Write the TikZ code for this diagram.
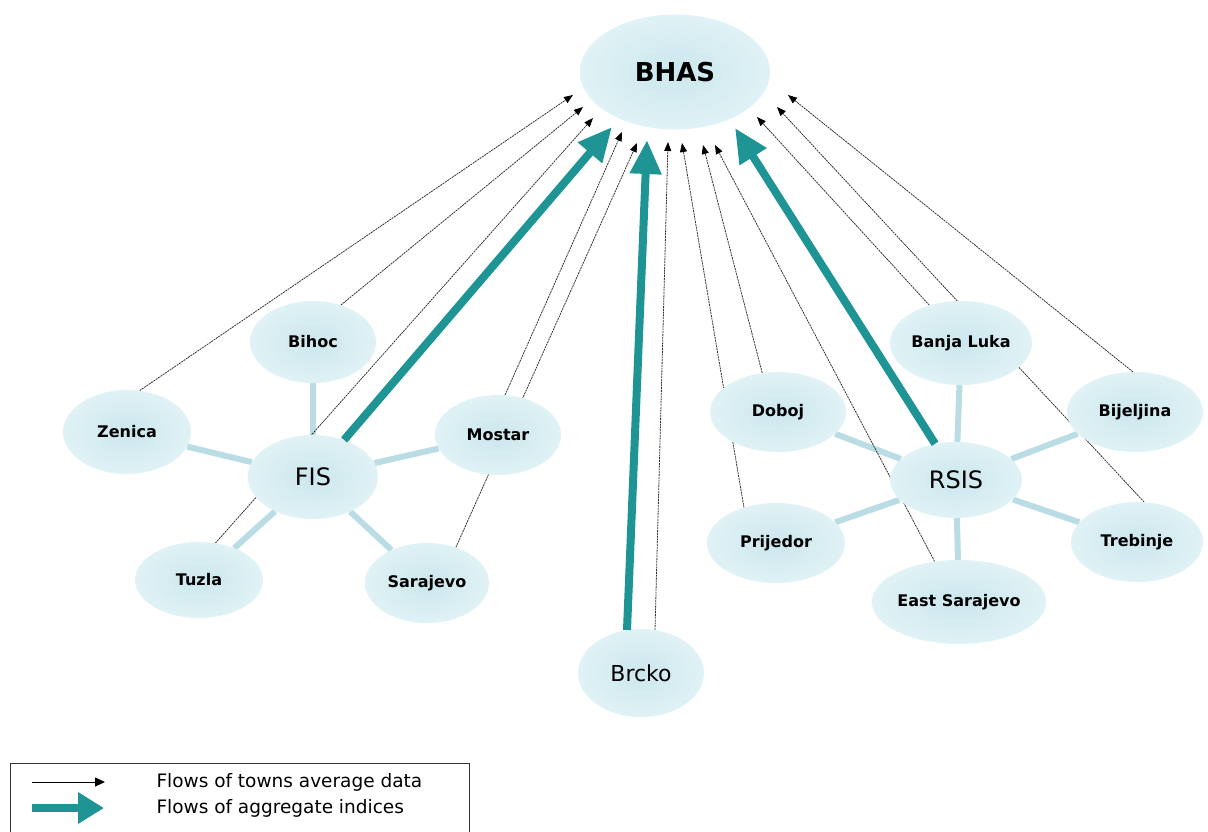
\documentclass[tikz,border=0pt]{standalone}
\usepackage{fontspec}
\setmainfont{DejaVu Sans}
\usetikzlibrary{shapes.geometric,arrows.meta,backgrounds}
\definecolor{tealc}{RGB}{30,148,148}
\definecolor{nodein}{RGB}{203,231,237}
\definecolor{nodeout}{RGB}{224,242,246}
\definecolor{hubc}{RGB}{186,220,228}
\begin{document}
\begin{tikzpicture}[x=1pt,y=-1pt,
  blob/.style={ellipse, inner sep=0pt, inner color=nodein, outer color=nodeout, text=black},
  town/.style={blob, font=\fontsize{16}{18}\selectfont\bfseries},
  hubnode/.style={blob, font=\fontsize{24}{26}\selectfont},
  hubline/.style={draw=hubc, line width=6pt},
  thinflow/.style={draw=black!80, line width=0.8pt, dash pattern=on 2pt off 0.8pt,
     -{Triangle[length=9pt,width=7pt,color=black]}},
  aggflow/.style={draw=tealc, line width=8pt, -{Triangle[length=34pt,width=30pt]}},
  legtext/.style={anchor=west, font=\fontsize{18.5}{20}\selectfont}
]
\useasboundingbox (0,0) rectangle (1208,831);

% top node
\node[blob, font=\fontsize{26}{28}\selectfont\bfseries, minimum width=190pt, minimum height=115pt] (BHAS) at (675,72) {BHAS};

% FIS group
\node[hubnode, minimum width=130pt, minimum height=84pt] (FIS) at (313,477) {FIS};
\node[town, minimum width=128pt, minimum height=84pt] (Zenica) at (127,432) {Zenica};
\node[town, minimum width=126pt, minimum height=82pt] (Bihoc) at (313,342) {Bihoc};
\node[town, minimum width=126pt, minimum height=80pt] (Mostar) at (498,435) {Mostar};
\node[town, minimum width=128pt, minimum height=76pt] (Tuzla) at (199,580) {Tuzla};
\node[town, minimum width=124pt, minimum height=80pt] (Sarajevo) at (427,583) {Sarajevo};

% Brcko
\node[blob, font=\fontsize{22}{24}\selectfont, minimum width=126pt, minimum height=88pt] (Brcko) at (641,673) {Brcko};

% RSIS group
\node[hubnode, minimum width=132pt, minimum height=76pt] (RSIS) at (956,480) {RSIS};
\node[town, minimum width=142pt, minimum height=84pt] (BanjaLuka) at (961,343) {Banja Luka};
\node[town, minimum width=136pt, minimum height=80pt] (Doboj) at (778,412) {Doboj};
\node[town, minimum width=136pt, minimum height=80pt] (Bijeljina) at (1135,412) {Bijeljina};
\node[town, minimum width=138pt, minimum height=80pt] (Prijedor) at (776,543) {Prijedor};
\node[town, minimum width=132pt, minimum height=80pt] (Trebinje) at (1137,542) {Trebinje};
\node[town, minimum width=138pt, minimum height=84pt] (EastSarajevo) at (959,602) {East Sarajevo};

% arrow tips at BHAS
\coordinate (tZen) at (573,95);
\coordinate (tBih) at (583,107);
\coordinate (tTuz) at (593,118);
\coordinate (tFIS) at (612,127);
\coordinate (tMos) at (622,132);
\coordinate (tSar) at (637,143);
\coordinate (tBrT) at (647,140);
\coordinate (tBrc) at (668,142);
\coordinate (tPri) at (682,143);
\coordinate (tDob) at (703,145);
\coordinate (tESa) at (715,145);
\coordinate (tRSIS) at (735,128);
\coordinate (tBan) at (757,117);
\coordinate (tTre) at (777,107);
\coordinate (tBij) at (788,95);

\begin{pgfonlayer}{background}
  \foreach \t in {Zenica,Bihoc,Mostar,Tuzla,Sarajevo} \draw[hubline] (FIS) -- (\t);
  \foreach \t in {BanjaLuka,Doboj,Bijeljina,Prijedor,Trebinje,EastSarajevo} \draw[hubline] (RSIS) -- (\t);
  \draw[thinflow] (Zenica.73) -- (tZen);
  \draw[thinflow] (Bihoc.53) -- (tBih);
  \draw[thinflow] (Tuzla.66) -- (tTuz);
  \draw[thinflow] (Mostar.80) -- (tMos);
  \draw[thinflow] (Sarajevo.51) -- (tSar);
  \draw[thinflow] (Brcko.72) -- (tBrc);
  \draw[thinflow] (Prijedor.132) -- (tPri);
  \draw[thinflow] (Doboj.112) -- (tDob);
  \draw[thinflow] (EastSarajevo.121) -- (tESa);
  \draw[thinflow] (BanjaLuka.130) -- (tBan);
  \draw[thinflow] (Trebinje.80) -- (tTre);
  \draw[thinflow] (Bijeljina.93) -- (tBij);
\end{pgfonlayer}

\draw[aggflow] (FIS.50) -- (tFIS);
\draw[aggflow] (Brcko.108) -- (tBrT);
\draw[aggflow] (RSIS.120) -- (tRSIS);

% legend
\draw[line width=1pt, black!80] (10,835) -- (10,763) -- (469,763) -- (469,835);
\coordinate (la) at (32,782);
\coordinate (lb) at (105,782);
\coordinate (lc) at (32,808);
\coordinate (ld) at (104,808);
\draw[draw=black, line width=0.9pt, -{Triangle[length=10pt,width=9pt]}] (la) -- (lb);
\draw[draw=tealc, line width=8pt, -{Triangle[length=26pt,width=30pt]}] (lc) -- (ld);
\node[legtext] (leg1) at (153,782) {Flows of towns average data};
\node[legtext] (leg2) at (153,808) {Flows of aggregate indices};
\end{tikzpicture}
\end{document}
